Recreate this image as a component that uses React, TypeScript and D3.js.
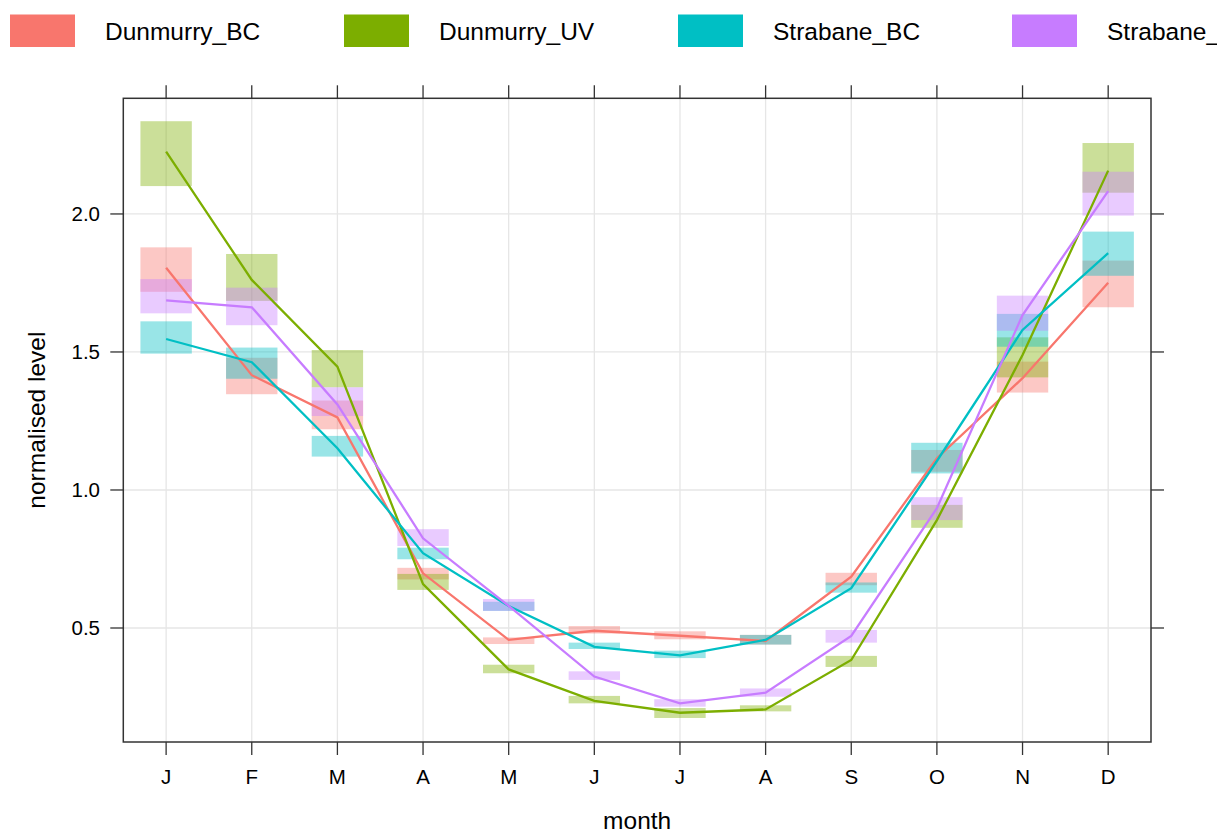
import * as d3 from "d3";
import React from "react";

// month labels and series names
const months = ["J", "F", "M", "A", "M", "J", "J", "A", "S", "O", "N", "D"];
const seriesNames = ["Dunmurry_BC", "Dunmurry_UV", "Strabane_BC", "Strabane_UV"];
const seriesColors = ["#F8766D", "#7CAE00", "#00BFC4", "#C77CFF"];

// mean + confidence interval per series
const dunBCMean = [1.805, 1.416, 1.263, 0.698, 0.457, 0.49, 0.472, 0.453, 0.686, 1.115, 1.405, 1.751];
const dunBCLow = [1.718, 1.347, 1.22, 0.676, 0.442, 0.48, 0.459, 0.44, 0.655, 1.066, 1.353, 1.662];
const dunBCHigh = [1.879, 1.479, 1.324, 0.718, 0.466, 0.507, 0.488, 0.475, 0.7, 1.145, 1.465, 1.831];

const dunUVMean = [2.226, 1.761, 1.447, 0.659, 0.35, 0.236, 0.193, 0.205, 0.384, 0.891, 1.489, 2.157];
const dunUVLow = [2.101, 1.685, 1.372, 0.638, 0.336, 0.227, 0.174, 0.198, 0.359, 0.863, 1.408, 2.077];
const dunUVHigh = [2.336, 1.855, 1.507, 0.696, 0.367, 0.254, 0.21, 0.22, 0.399, 0.946, 1.553, 2.257];

const strBCMean = [1.547, 1.463, 1.151, 0.771, 0.58, 0.432, 0.401, 0.457, 0.644, 1.105, 1.58, 1.858];
const strBCLow = [1.494, 1.403, 1.121, 0.749, 0.562, 0.424, 0.391, 0.44, 0.628, 1.06, 1.519, 1.776];
const strBCHigh = [1.611, 1.516, 1.196, 0.791, 0.595, 0.447, 0.418, 0.475, 0.665, 1.171, 1.638, 1.936];

const strUVMean = [1.687, 1.662, 1.31, 0.825, 0.58, 0.324, 0.227, 0.266, 0.471, 0.934, 1.634, 2.083];
const strUVLow = [1.64, 1.597, 1.268, 0.797, 0.562, 0.312, 0.215, 0.251, 0.447, 0.891, 1.577, 1.994];
const strUVHigh = [1.764, 1.733, 1.372, 0.858, 0.605, 0.343, 0.242, 0.281, 0.493, 0.974, 1.704, 2.153];

const yTicks = [0.5, 1.0, 1.5, 2.0];

const series = [
  { mean: dunBCMean, low: dunBCLow, high: dunBCHigh },
  { mean: dunUVMean, low: dunUVLow, high: dunUVHigh },
  { mean: strBCMean, low: strBCLow, high: strBCHigh },
  { mean: strUVMean, low: strUVLow, high: strUVHigh },
];

const W = 1217;
const H = 834;
const left = 123.3;
const right = 1151;
const top = 98.3;
const bottom = 742;
const font = "'Liberation Sans', Arial, sans-serif";

export default function App() {
  const idx = months.map((_, i) => i);
  const x = d3.scalePoint<number>().domain(idx).range([left, right]).padding(0.5);
  const y = d3.scaleLinear().domain([0.087, 2.419]).range([bottom, top]);
  const step = x.step();
  const boxW = step * 0.6;

  const line = d3
    .line<number>()
    .x((_, i) => x(i) as number)
    .y((d) => y(d));

  // legend columns
  const legendX = d3.scaleLinear().domain([0, 1]).range([10, 344]);

  return (
    <svg
      width={W}
      height={H}
      style={{ position: "absolute", left: 0, top: 0, background: "#fff" }}
      fontFamily={font}
    >
      {/* legend */}
      {seriesNames.map((name, i) => (
        <g key={name}>
          <rect x={legendX(i)} y={14.5} width={65} height={32.5} fill={seriesColors[i]} />
          <text x={legendX(i) + 95} y={31} dominantBaseline="central" fontSize={24.5} fill="#000">
            {name}
          </text>
        </g>
      ))}

      {/* grid */}
      {idx.map((i) => (
        <line key={"gx" + i} x1={x(i)} x2={x(i)} y1={top} y2={bottom} stroke="#e6e6e6" strokeWidth={1.3} />
      ))}
      {yTicks.map((t) => (
        <line key={"gy" + t} x1={left} x2={right} y1={y(t)} y2={y(t)} stroke="#e6e6e6" strokeWidth={1.3} />
      ))}

      {/* confidence boxes */}
      {series.map((s, si) =>
        s.mean.map((_, i) => (
          <rect
            key={`r${si}-${i}`}
            x={(x(i) as number) - boxW / 2}
            width={boxW}
            y={y(s.high[i])}
            height={y(s.low[i]) - y(s.high[i])}
            fill={seriesColors[si]}
            fillOpacity={0.4}
          />
        )),
      )}

      {/* mean lines */}
      {series.map((s, si) => (
        <path key={"l" + si} d={line(s.mean) || ""} fill="none" stroke={seriesColors[si]} strokeWidth={2.3} />
      ))}

      {/* frame */}
      <rect x={left} y={top} width={right - left} height={bottom - top} fill="none" stroke="#333" strokeWidth={1.5} />

      {/* x ticks top & bottom */}
      {idx.map((i) => (
        <g key={"tx" + i}>
          <line x1={x(i)} x2={x(i)} y1={bottom} y2={bottom + 13} stroke="#333" strokeWidth={1.3} />
          <line x1={x(i)} x2={x(i)} y1={top} y2={top - 13} stroke="#333" strokeWidth={1.3} />
          <text x={x(i)} y={776} textAnchor="middle" dominantBaseline="central" fontSize={20.5} fill="#000">
            {months[i]}
          </text>
        </g>
      ))}

      {/* y ticks left & right */}
      {yTicks.map((t) => (
        <g key={"ty" + t}>
          <line x1={left - 13} x2={left} y1={y(t)} y2={y(t)} stroke="#333" strokeWidth={1.3} />
          <line x1={right} x2={right + 13} y1={y(t)} y2={y(t)} stroke="#333" strokeWidth={1.3} />
          <text x={100} y={y(t)} textAnchor="end" dominantBaseline="central" fontSize={20.5} fill="#000">
            {d3.format(".1f")(t)}
          </text>
        </g>
      ))}

      {/* axis titles */}
      <text x={(left + right) / 2} y={820} textAnchor="middle" dominantBaseline="central" fontSize={24.5} fill="#000">
        month
      </text>
      <text
        transform={`translate(36, ${(top + bottom) / 2}) rotate(-90)`}
        textAnchor="middle"
        dominantBaseline="central"
        fontSize={24.5}
        fill="#000"
      >
        normalised level
      </text>
    </svg>
  );
}
